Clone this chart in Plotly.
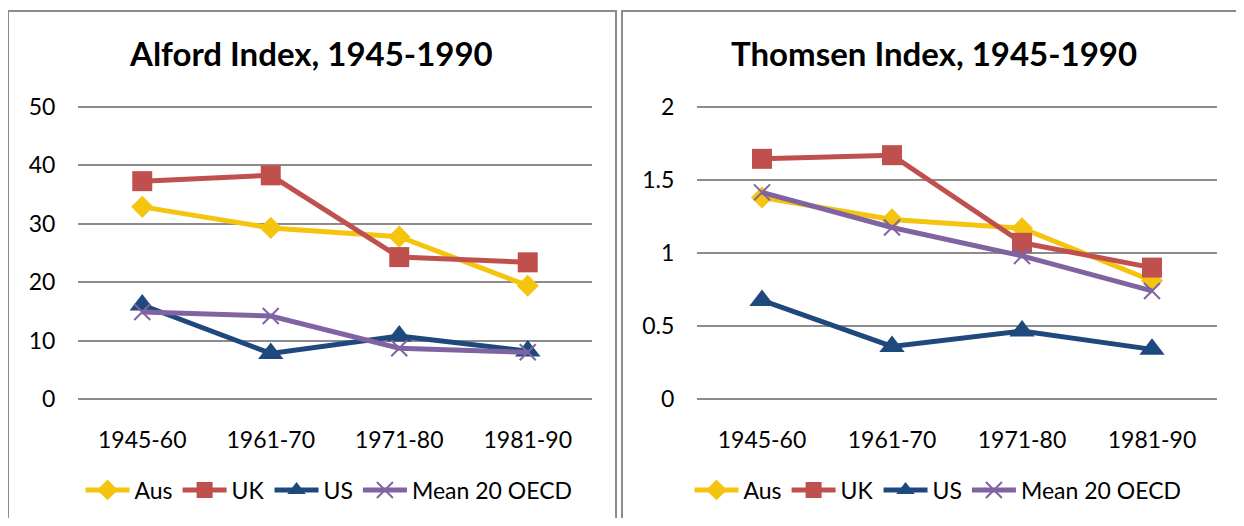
import plotly.graph_objects as go

categories = ["1945-60", "1961-70", "1971-80", "1981-90"]

alford_aus = [32.9, 29.3, 27.8, 19.4]
alford_uk = [37.3, 38.3, 24.3, 23.4]
alford_us = [16.1, 7.8, 10.8, 8.2]
alford_mean = [14.9, 14.2, 8.7, 8.0]

thomsen_aus = [1.38, 1.23, 1.17, 0.81]
thomsen_uk = [1.645, 1.67, 1.07, 0.90]
thomsen_us = [0.675, 0.36, 0.465, 0.34]
thomsen_mean = [1.415, 1.175, 0.98, 0.74]

series_names = ["Aus", "UK", "US", "Mean 20 OECD"]
colors = ["#F5C40F", "#C0504D", "#1F497D", "#8064A2"]
symbols = ["diamond", "square", "triangle-up", "x-thin"]
sizes = [17, 20, 22, 16]

FONT = "Lato"
# the page has an 8px body margin, so the figure is placed at (8, 8) in the window
OFF = 8
W, H = 1244 - 2 * OFF, 526 - 2 * OFF


def px(x):
    return (x - OFF) / W


def py(y):
    return 1 - (y - OFF) / H


fig = go.Figure()

panels = [
    ("x", "y", "legend", [alford_aus, alford_uk, alford_us, alford_mean]),
    ("x2", "y2", "legend2", [thomsen_aus, thomsen_uk, thomsen_us, thomsen_mean]),
]
for xa, ya, lg, data in panels:
    for name, vals, c, s, sz in zip(series_names, data, colors, symbols, sizes):
        if s == "x-thin":
            marker = dict(symbol=s, size=sz, color=c, line=dict(color=c, width=2))
        else:
            marker = dict(symbol=s, size=sz, color=c, line=dict(width=0))
        fig.add_trace(go.Scatter(
            x=categories, y=vals, name=name, mode="lines+markers",
            line=dict(color=c, width=5), marker=marker,
            xaxis=xa, yaxis=ya, legend=lg, showlegend=True,
        ))

# value 0 at window y=399, top tick at y=107; ranges padded ~1% so edge gridlines show
pad_px = 2.92
ydom = [py(399 + pad_px), py(107 - pad_px)]
tickfont = dict(family=FONT, size=23, color="#000")
common_x = dict(type="category", range=[-0.5, 3.5], showgrid=False, zeroline=False,
                showline=False, ticks="outside", ticklen=17, tickcolor="rgba(0,0,0,0)",
                tickfont=tickfont, fixedrange=True)
common_y = dict(showgrid=True, gridcolor="#8C8C8C", gridwidth=1.6, zeroline=False,
                showline=False, ticks="outside", ticklen=17, tickcolor="rgba(0,0,0,0)",
                tickfont=tickfont, domain=ydom, fixedrange=True)

legend_common = dict(orientation="h", y=py(490), yanchor="middle",
                     font=dict(family=FONT, size=23, color="#000"), itemwidth=44,
                     tracegroupgap=0, bgcolor="rgba(0,0,0,0)", itemclick=False)

fig.update_layout(
    width=W, height=H, margin=dict(l=0, r=0, t=0, b=0, autoexpand=False),
    paper_bgcolor="white", plot_bgcolor="white",
    xaxis=dict(common_x, domain=[px(78), px(592)], anchor="y"),
    yaxis=dict(common_y, range=[-0.5, 50.5], tickvals=[0, 10, 20, 30, 40, 50], anchor="x"),
    xaxis2=dict(common_x, domain=[px(697), px(1217)], anchor="y2"),
    yaxis2=dict(common_y, range=[-0.02, 2.02], tickvals=[0, 0.5, 1, 1.5, 2],
                ticktext=["0", "0.5", "1", "1.5", "2"], anchor="x2"),
    legend=dict(legend_common, x=px(329), xanchor="center"),
    legend2=dict(legend_common, x=px(938), xanchor="center"),
    showlegend=True,
)

fig.add_annotation(text="<b>Alford Index, 1945-1990</b>", x=px(311), y=py(53),
                   xref="paper", yref="paper", xanchor="center", yanchor="middle",
                   showarrow=False, font=dict(family=FONT, size=33, color="#000"))
fig.add_annotation(text="<b>Thomsen Index, 1945-1990</b>", x=px(934), y=py(53),
                   xref="paper", yref="paper", xanchor="center", yanchor="middle",
                   showarrow=False, font=dict(family=FONT, size=33, color="#000"))

# panel borders
fig.add_shape(type="rect", xref="paper", yref="paper", x0=px(8), x1=px(616),
              y0=py(540), y1=py(11), line=dict(color="#8C8C8C", width=2))
fig.add_shape(type="rect", xref="paper", yref="paper", x0=px(622), x1=px(1260),
              y0=py(540), y1=py(11), line=dict(color="#8C8C8C", width=2))

fig.write_html("out.html")
